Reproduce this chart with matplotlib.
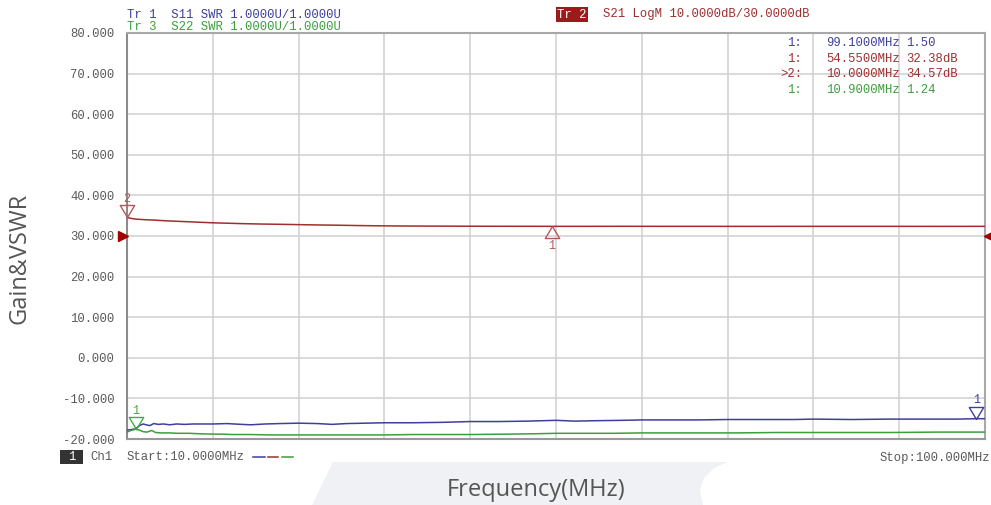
import matplotlib
matplotlib.use("Agg")
import matplotlib.pyplot as plt
import matplotlib.transforms as mtransforms
from matplotlib.path import Path
from matplotlib.patches import Polygon, Rectangle
import numpy as np

# ---- measured traces -------------------------------------------------------
# S21 gain (dB)
freq_s21 = [10.0, 10.5, 11.0, 12.0, 13.0, 14.0, 15.0, 16.0, 17.5, 19.0, 20.5,
            22.0, 24.0, 26.0, 28.0, 30.0, 32.0, 34.0, 36.0, 38.0, 40.0, 44.0,
            48.0, 52.0, 54.55, 58.0, 62.0, 66.0, 70.0, 75.0, 80.0, 85.0, 90.0,
            95.0, 100.0]
gain_s21 = [34.57, 34.30, 34.15, 34.00, 33.90, 33.75, 33.65, 33.55, 33.40,
            33.25, 33.15, 33.05, 32.95, 32.88, 32.80, 32.72, 32.66, 32.58,
            32.52, 32.48, 32.45, 32.42, 32.40, 32.39, 32.38, 32.38, 32.39,
            32.38, 32.38, 32.37, 32.38, 32.38, 32.38, 32.37, 32.38]

# S11 input VSWR
freq_s11 = [10.0, 10.4, 10.9, 11.3, 11.7, 12.0, 12.4, 12.8, 13.3, 13.8, 14.5,
            15.2, 16.0, 17.0, 18.0, 19.0, 20.5, 22.0, 23.0, 24.5, 26.0, 28.0,
            30.0, 31.5, 33.0, 35.0, 37.0, 40.0, 43.0, 46.0, 49.0, 52.0, 55.0,
            57.0, 59.0, 62.0, 64.0, 67.0, 70.0, 73.0, 77.0, 80.0, 82.0, 86.0,
            90.0, 94.0, 97.0, 99.1, 100.0]
swr_s11 = [1.22, 1.23, 1.25, 1.33, 1.37, 1.35, 1.33, 1.38, 1.36, 1.37, 1.35,
           1.37, 1.36, 1.37, 1.37, 1.37, 1.38, 1.36, 1.35, 1.37, 1.38, 1.39,
           1.38, 1.36, 1.38, 1.39, 1.40, 1.40, 1.41, 1.43, 1.43, 1.44, 1.46,
           1.44, 1.45, 1.46, 1.47, 1.47, 1.47, 1.48, 1.48, 1.48, 1.49, 1.48,
           1.49, 1.49, 1.49, 1.50, 1.50]

# S22 output VSWR
freq_s22 = [10.0, 10.4, 10.9, 11.3, 11.7, 12.1, 12.6, 13.0, 13.6, 14.5, 15.3,
            16.5, 17.5, 19.0, 20.0, 21.0, 23.0, 25.0, 28.0, 31.0, 34.0, 37.0,
            40.0, 43.0, 46.0, 50.0, 53.0, 55.0, 58.0, 61.0, 64.0, 67.0, 70.0,
            74.0, 78.0, 82.0, 86.0, 90.0, 95.0, 100.0]
swr_s22 = [1.17, 1.21, 1.24, 1.22, 1.18, 1.17, 1.21, 1.16, 1.15, 1.15, 1.14,
           1.14, 1.13, 1.12, 1.12, 1.11, 1.11, 1.10, 1.10, 1.10, 1.10, 1.10,
           1.11, 1.11, 1.11, 1.12, 1.13, 1.14, 1.14, 1.14, 1.15, 1.15, 1.15,
           1.15, 1.16, 1.16, 1.16, 1.16, 1.17, 1.17]

# marker readouts
mk_s11_freq, mk_s11_val = 99.1, 1.50
mk_s21a_freq, mk_s21a_val = 54.55, 32.38
mk_s21b_freq, mk_s21b_val = 10.0, 34.57
mk_s22_freq, mk_s22_val = 10.9, 1.24

# axis
start_mhz, stop_mhz = 10.0, 100.0
y_ticks = [80, 70, 60, 50, 40, 30, 20, 10, 0, -10, -20]
y_tick_labels = ["80.000", "70.000", "60.000", "50.000", "40.000", "30.000",
                 "20.000", "10.000", "0.000", "-10.000", "-20.000"]
db_ref = 30.0
db_per_div = 10.0
swr_ref, swr_per_div = 1.0, 1.0

# ---- styling ---------------------------------------------------------------
W, H = 991, 505
BLUE = "#3f3f9c"
RED = "#9e2f2f"
GREEN = "#3c9e3c"
GRID = "#d0d0d0"
TXT = "#5a5a5a"
MONO = "Liberation Mono"

fig = plt.figure(figsize=(W / 100, H / 100), dpi=100, facecolor="white")


def fx(x):
    return x / W


def fy(y):
    return 1 - y / H


# faint watermark band behind the x label
band = Polygon([(fx(333), fy(462)), (fx(728), fy(462)), (fx(714), fy(468)),
                (fx(704), fy(478)), (fx(700), fy(490)), (fx(703), fy(505)),
                (fx(312), fy(505))], closed=True, transform=fig.transFigure,
               fc="#f0f1f4", ec="none", zorder=0)
fig.patches.append(band)

ax = fig.add_axes([fx(127), fy(439), (985 - 127) / W, (439 - 33) / H])
ax.set_xlim(start_mhz, stop_mhz)
ax.set_ylim(-20, 80)
ax.set_xticks(np.linspace(start_mhz, stop_mhz, 11))
ax.set_yticks(y_ticks)
ax.set_yticklabels(y_tick_labels, fontfamily=MONO, fontsize=8.8, color=TXT)
ax.tick_params(axis="y", length=0, pad=9)
ax.tick_params(axis="x", length=0, labelbottom=False)
ax.grid(True, color=GRID, lw=1.1)
for side in ["left", "bottom", "top", "right"]:
    ax.spines[side].set_color("#a8a8a8")
    ax.spines[side].set_linewidth(1.5)
ax.spines["left"].set_color("#8c8c8c")
ax.spines["bottom"].set_color("#999999")


def swr_to_axis(v):
    return -20 + (np.asarray(v) - swr_ref) / swr_per_div * db_per_div


ax.plot(freq_s21, gain_s21, color=RED, lw=1.1, zorder=3)
ax.plot(freq_s11, swr_to_axis(swr_s11), color=BLUE, lw=1.1, zorder=3)
ax.plot(freq_s22, swr_to_axis(swr_s22), color=GREEN, lw=1.1, zorder=3)

# marker triangles: tip sits on the trace
tri_down = Path([(0, 0), (-0.6, 1), (0.6, 1), (0, 0)],
                [Path.MOVETO, Path.LINETO, Path.LINETO, Path.CLOSEPOLY])
tri_up = Path([(0, 0), (-0.6, -1), (0.6, -1), (0, 0)],
              [Path.MOVETO, Path.LINETO, Path.LINETO, Path.CLOSEPOLY])


def marker(x, y, path, color, label, above):
    ax.plot([x], [y], marker=path, ms=17.3, mfc="none", mec=color, mew=1.0,
            clip_on=False, zorder=5)
    dy = 13.3 if above else -13.8
    ax.annotate(label, (x, y), xytext=(0, dy), textcoords="offset points",
                ha="center", va="center", fontfamily=MONO, fontsize=8.5,
                color=color, annotation_clip=False, zorder=6)


marker(mk_s21b_freq, mk_s21b_val, tri_down, "#b25a5a", "2", True)
marker(mk_s21a_freq, mk_s21a_val, tri_up, "#b25a5a", "1", False)
marker(mk_s22_freq, swr_to_axis(mk_s22_val), tri_down, "#47a847", "1", True)
marker(mk_s11_freq, swr_to_axis(mk_s11_val), tri_down, BLUE, "1", True)

# reference-level arrows for the gain trace
blend = mtransforms.blended_transform_factory(ax.transAxes, ax.transData)
ax.plot([0], [db_ref], marker=">", ms=7, color="#a00000", clip_on=False,
        transform=blend + mtransforms.ScaledTranslation(-4.5 / 100, 0, fig.dpi_scale_trans),
        zorder=6)
ax.plot([1], [db_ref], marker="<", ms=7, color="#a00000", clip_on=False,
        transform=blend + mtransforms.ScaledTranslation(3.5 / 100, 0, fig.dpi_scale_trans),
        zorder=6)

# ---- header / readout text ---------------------------------------------------
def t(x, y, s, color, ha="left", **kw):
    fig.text(fx(x), fy(y), s, ha=ha, va="center", fontfamily=MONO,
             fontsize=8.8, color=color, **kw)


t(127, 15, "Tr 1  S11 SWR 1.0000U/1.0000U", BLUE)
t(127, 27, "Tr 3  S22 SWR 1.0000U/1.0000U", GREEN)
t(557, 14.5, "Tr 2", "white",
  bbox=dict(boxstyle="square,pad=0.12", fc="#9b1a1a", ec="none"))
t(603, 14.5, "S21 LogM 10.0000dB/30.0000dB", RED)

rows = [("1:", f"{mk_s11_freq:.4f}MHz", f"{mk_s11_val:.2f}", BLUE),
        ("1:", f"{mk_s21a_freq:.4f}MHz", f"{mk_s21a_val:.2f}dB", RED),
        (">2:", f"{mk_s21b_freq:.4f}MHz", f"{mk_s21b_val:.2f}dB", RED),
        ("1:", f"{mk_s22_freq:.4f}MHz", f"{mk_s22_val:.2f}", GREEN)]
for i, (idx, fr, val, col) in enumerate(rows):
    yy = 43 + i * 15.7
    t(802, yy, idx, col, ha="right")
    t(826, yy, fr, col)
    t(906, yy, val, col)

# footer
fig.patches.append(Rectangle((fx(60), fy(464)), 23 / W, 14 / H,
                             transform=fig.transFigure, fc="#333333",
                             ec="none", zorder=1))
t(71.5, 457.5, "1", "white", ha="center", zorder=2)
t(90, 457.5, "Ch1", TXT)
t(127, 457.5, "Start:10.0000MHz", TXT)
t(990, 457.5, "Stop:100.000MHz", TXT, ha="right")
for (x0, x1), col in zip([(253, 265), (268, 278), (282, 293)], [BLUE, RED, GREEN]):
    fig.add_artist(plt.Line2D([fx(x0), fx(x1)], [fy(457), fy(457)],
                              color=col, lw=1.1, transform=fig.transFigure))

# axis titles
fig.text(fx(20), fy(258), "Gain&VSWR", rotation=90, ha="center", va="center",
         fontfamily="Open Sans", fontsize=17, color="#555555")
fig.text(fx(536), fy(490), "Frequency(MHz)", ha="center", va="center",
         fontfamily="Open Sans", fontsize=17, color="#555555")

fig.savefig("out.png", dpi=100, facecolor="white")
